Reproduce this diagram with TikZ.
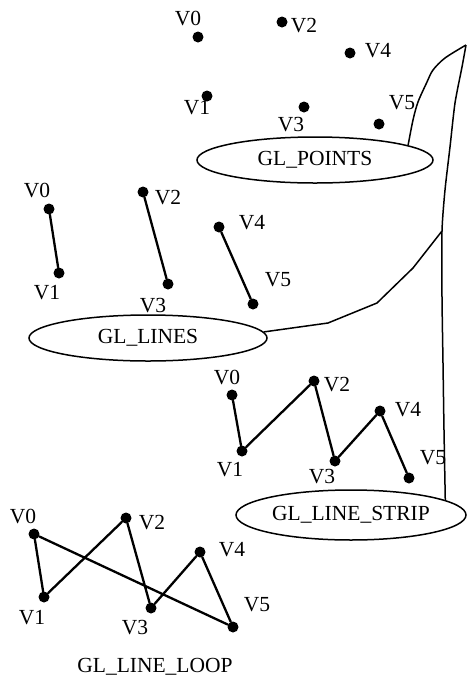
\documentclass[tikz,border=0pt]{standalone}
\usepackage{fontspec}
\setmainfont{Liberation Serif}
\usetikzlibrary{shapes.geometric}
\begin{document}
\begin{tikzpicture}[x=1pt,y=-1pt,
  dot/.style={circle,fill=black,inner sep=0pt,minimum size=11pt},
  lbl/.style={font=\fontsize{21.5}{24}\selectfont,inner sep=0pt},
  oval/.style={ellipse,draw,line width=1.5pt,inner sep=0pt,font=\fontsize{21.5}{24}\selectfont},
  seg/.style={line width=2.3pt,line cap=round},
  curve/.style={line width=1.5pt,line join=round}]
\useasboundingbox (0,0) rectangle (468,681);
% GL_POINTS
\node[dot] (a0) at (198,37) {};
\node[dot] (a1) at (207,96) {};
\node[dot] (a2) at (282,22) {};
\node[dot] (a3) at (304,107) {};
\node[dot] (a4) at (350,53) {};
\node[dot] (a5) at (379,124) {};
\node[lbl] (la0) at (188,19) {V0};
\node[lbl] (la1) at (197,108) {V1};
\node[lbl] (la2) at (304,26) {V2};
\node[lbl] (la3) at (291,125) {V3};
\node[lbl] (la4) at (378,51) {V4};
\node[lbl] (la5) at (402,103) {V5};
\node[oval,minimum width=236pt,minimum height=46pt] (pts) at (315,160) {GL\_POINTS};
% GL_LINES
\node[dot] (b0) at (49,209) {};
\node[dot] (b1) at (59,273) {};
\node[dot] (b2) at (143,192) {};
\node[dot] (b3) at (168,284) {};
\node[dot] (b4) at (219,227) {};
\node[dot] (b5) at (253,304) {};
\node[lbl] (lb0) at (37,191) {V0};
\node[lbl] (lb1) at (47,293) {V1};
\node[lbl] (lb2) at (168,198) {V2};
\node[lbl] (lb3) at (153,306) {V3};
\node[lbl] (lb4) at (252,223) {V4};
\node[lbl] (lb5) at (278,280) {V5};
\draw[seg] (b0) -- (b1);
\draw[seg] (b2) -- (b3);
\draw[seg] (b4) -- (b5);
\node[oval,minimum width=238pt,minimum height=46pt] (lines) at (148,338) {GL\_LINES};
% GL_LINE_STRIP
\node[dot] (c0) at (232,395) {};
\node[dot] (c1) at (242,451) {};
\node[dot] (c2) at (314,381) {};
\node[dot] (c3) at (335,461) {};
\node[dot] (c4) at (380,411) {};
\node[dot] (c5) at (409,478) {};
\node[lbl] (lc0) at (227,378) {V0};
\node[lbl] (lc1) at (230,470) {V1};
\node[lbl] (lc2) at (337,385) {V2};
\node[lbl] (lc3) at (322,477) {V3};
\node[lbl] (lc4) at (408,410) {V4};
\node[lbl] (lc5) at (433,458) {V5};
\draw[seg,line join=round] (c0) -- (c1) -- (c2) -- (c3) -- (c4) -- (c5);
\node[oval,minimum width=230pt,minimum height=50pt] (strip) at (351,515) {GL\_LINE\_STRIP};
% GL_LINE_LOOP
\node[dot] (d0) at (34,534) {};
\node[dot] (d1) at (44,597) {};
\node[dot] (d2) at (126,518) {};
\node[dot] (d3) at (151,608) {};
\node[dot] (d4) at (200,552) {};
\node[dot] (d5) at (233,627) {};
\node[lbl] (ld0) at (23,517) {V0};
\node[lbl] (ld1) at (32,618) {V1};
\node[lbl] (ld2) at (152,523) {V2};
\node[lbl] (ld3) at (135,628) {V3};
\node[lbl] (ld4) at (232,550) {V4};
\node[lbl] (ld5) at (257,605) {V5};
\draw[seg,line join=round] (d0) -- (d1) -- (d2) -- (d3) -- (d4) -- (d5) -- (d0);
\node[lbl] (loop) at (155,667) {GL\_LINE\_LOOP};
% connecting curves
\coordinate (peak) at (466,45);
\coordinate (join) at (442,231);
\draw[curve] plot[smooth,tension=0.5] coordinates {(pts.9) (413,120) (418,102) (427,82) (433,70) (445,58) (peak)};
\draw[curve] plot[smooth,tension=0.4] coordinates {(peak) (462,67) (455,103) (450,147) (445,190) (join) (442,297) (443,363) (444,430) (strip.9)};
\draw[curve] (lines.3) -- (328,323) -- (377,303) -- (413,268) -- (join);
\end{tikzpicture}
\end{document}
